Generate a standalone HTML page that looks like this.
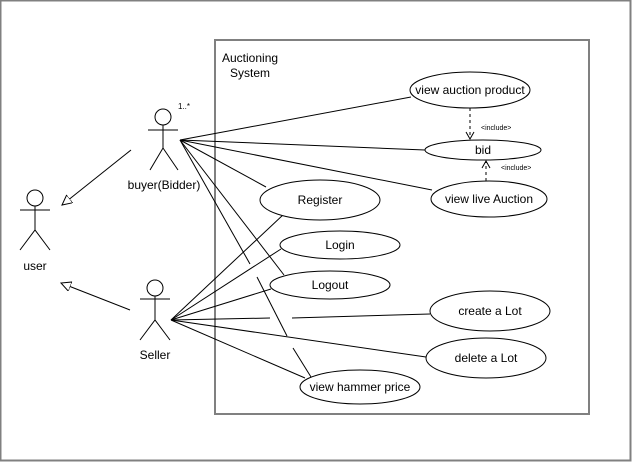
<!DOCTYPE html>
<html><head><meta charset="utf-8"><style>
html,body{margin:0;padding:0;background:#fff;}
svg{display:block;font-family:"Liberation Sans",sans-serif;}
</style></head><body>
<svg width="632" height="462" viewBox="0 0 632 462" xmlns="http://www.w3.org/2000/svg">
<defs>
<marker id="tri" markerWidth="12" markerHeight="12" refX="10" refY="5" orient="auto" markerUnits="userSpaceOnUse">
<path d="M0,0 L10,5 L0,10 Z" fill="#fff" stroke="#000" stroke-width="1"/>
</marker>
</defs>
<rect x="0.5" y="0.5" width="630" height="460" fill="#fff" stroke="#808080" stroke-width="2"/>
<rect x="215" y="40" width="374" height="374" fill="#fff" stroke="#808080" stroke-width="2"/>
<text x="222" y="62" font-size="12">Auctioning</text>
<text x="230" y="77" font-size="12">System</text>

<g stroke="#000" stroke-width="1" fill="none">
<line x1="180" y1="140" x2="411" y2="97"/>
<line x1="180" y1="140" x2="425" y2="150"/>
<line x1="180" y1="140" x2="432" y2="190"/>
<line x1="180" y1="140" x2="266" y2="187"/>
<line x1="180" y1="140" x2="284" y2="275"/>
<line x1="180" y1="140" x2="250" y2="264"/>
<line x1="257" y1="277" x2="287" y2="336"/>
<line x1="293" y1="348" x2="311" y2="377"/>
<line x1="171" y1="320" x2="284" y2="214"/>
<line x1="171" y1="320" x2="281" y2="249"/>
<line x1="171" y1="320" x2="271" y2="289"/>
<line x1="171" y1="320" x2="270" y2="318"/>
<line x1="292" y1="318" x2="430" y2="314"/>
<line x1="171" y1="320" x2="426" y2="357"/>
<line x1="171" y1="320" x2="305" y2="378"/>
<line x1="131" y1="150" x2="62" y2="205" marker-end="url(#tri)"/>
<line x1="130" y1="310" x2="61" y2="283" marker-end="url(#tri)"/>
<line x1="470" y1="108" x2="470" y2="138" stroke-dasharray="3,3"/>
<path d="M466,132 L470,139 L474,132"/>
<line x1="486" y1="181" x2="486" y2="161" stroke-dasharray="3,3"/>
<path d="M482,168 L486,161 L490,168"/>
</g>

<g stroke="#000" stroke-width="1" fill="#fff">
<circle cx="163" cy="117" r="8"/>
<path d="M163,125 V148 M148,130 H178 M150,170 L163,148 L178,170" fill="none"/>
<circle cx="155" cy="288" r="8"/>
<path d="M155,296 V320 M140,299 H170 M140,340 L155,320 L170,340" fill="none"/>
<circle cx="35" cy="198" r="8"/>
<path d="M35,206 V230 M20,210 H50 M20,250 L35,230 L50,250" fill="none"/>
</g>
<g font-size="12" text-anchor="middle" fill="#000">
<text x="164" y="189">buyer(Bidder)</text>
<text x="155" y="359">Seller</text>
<text x="35" y="270">user</text>
</g>
<text x="178" y="109" font-size="8">1..*</text>

<g stroke="#000" stroke-width="1" fill="#fff">
<ellipse cx="470" cy="90" rx="60" ry="18"/>
<ellipse cx="483" cy="150" rx="58" ry="10"/>
<ellipse cx="489" cy="199" rx="58" ry="18"/>
<ellipse cx="320" cy="200" rx="60" ry="20"/>
<ellipse cx="340" cy="245" rx="60" ry="14"/>
<ellipse cx="330" cy="285" rx="60" ry="14"/>
<ellipse cx="360" cy="387" rx="60" ry="17"/>
<ellipse cx="490" cy="311" rx="60" ry="20"/>
<ellipse cx="486" cy="358" rx="60" ry="20"/>
</g>
<g font-size="12" text-anchor="middle" fill="#000">
<text x="470" y="94">view auction product</text>
<text x="483" y="154">bid</text>
<text x="489" y="203">view live Auction</text>
<text x="320" y="204">Register</text>
<text x="340" y="249">Login</text>
<text x="330" y="289">Logout</text>
<text x="360" y="391">view hammer price</text>
<text x="490" y="315">create a Lot</text>
<text x="486" y="362">delete a Lot</text>
</g>
<g font-size="7" fill="#000">
<text x="481" y="130">&lt;include&gt;</text>
<text x="501" y="170">&lt;include&gt;</text>
</g>
</svg>
</body></html>
